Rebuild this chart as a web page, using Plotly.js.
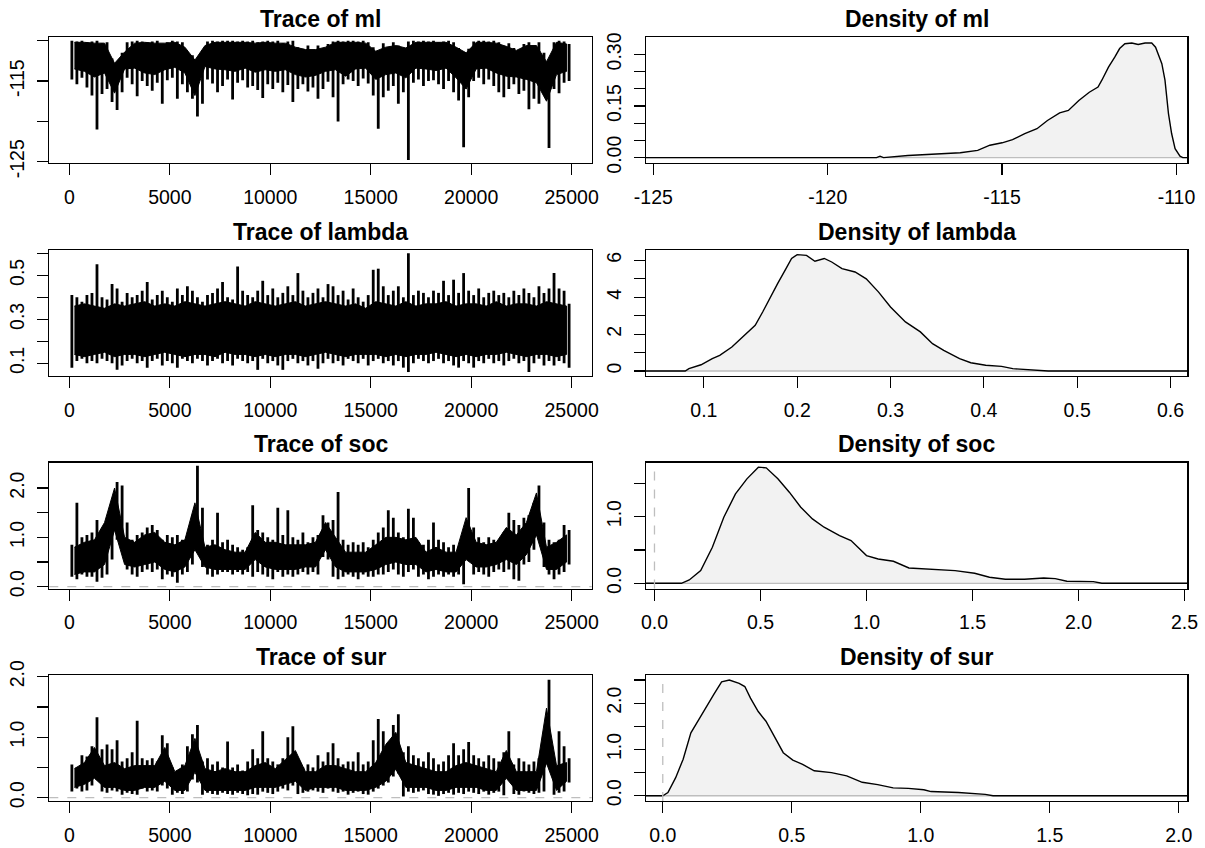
<!DOCTYPE html>
<html>
<head>
<meta charset="utf-8">
<script src="https://cdn.plot.ly/plotly-3.0.1.min.js"></script>
<style>html,body{margin:0;padding:0;background:#fff;}#plot{width:1205px;height:848px;}</style>
</head>
<body>
<div id="plot"></div>
<script>
// ---------- DATA ----------
// Trace plots: extreme high / low of the chain in each block of 250 iterations
const binSize = 250;
const mlHigh = [-110.0,-110.1,-110.0,-110.2, -110.1,-110.0,-110.3,-110.2, -112.2,-112.8,-111.5,-110.2, -110.1,-110.0,-110.1,-110.2, -110.1,-110.0,-110.4,-110.2,
  -110.0,-110.1,-110.2,-111.4, -111.8,-112.6,-111.2,-110.1, -110.0,-110.1,-110.0,-110.0, -110.0,-110.1,-110.0,-110.1, -110.0,-110.2,-110.1,-110.0,
  -110.1,-110.0,-110.3,-110.1, -110.0,-110.8,-111.0,-110.6, -111.2,-110.6,-111.0,-110.4, -110.1,-110.0,-110.1,-110.0, -110.0,-110.1,-110.0,-110.2,
  -110.8,-111.5,-110.3,-110.9, -110.2,-110.6,-111.2,-110.1, -110.0,-110.1,-110.0,-110.1, -110.0,-110.2,-110.1,-110.0, -110.2,-110.9,-111.6,-111.0,
  -110.1,-110.0,-110.0,-110.1, -110.0,-110.2,-110.8,-110.3, -110.9,-111.3,-110.4,-110.2, -110.6,-110.2,-111.5,-112.5, -110.2,-110.0,-110.1,-110.4];
const mlLow = [-114.8,-115.4,-114.6,-115.8, -116.8,-121.0,-116.6,-116.0, -117.6,-118.6,-116.4,-114.6, -115.4,-116.9,-115.0,-115.6, -116.2,-115.2,-117.8,-114.9,
  -114.6,-117.2,-115.4,-116.4, -117.2,-119.4,-117.8,-114.8, -115.3,-116.4,-115.6,-114.8, -117.3,-115.2,-114.9,-115.8, -115.6,-116.1,-117.1,-115.4,
  -116.0,-115.2,-116.4,-115.5, -117.6,-116.0,-115.4,-116.3, -115.8,-117.2,-116.0,-115.1, -117.0,-120.0,-115.4,-114.8, -115.0,-115.6,-114.7,-115.3,
  -116.8,-120.9,-117.0,-116.2, -115.6,-117.8,-116.4,-124.8, -115.2,-114.8,-115.6,-115.0, -114.9,-115.4,-116.0,-115.0, -116.4,-117.4,-123.2,-117.0,
  -115.0,-114.6,-115.4,-114.8, -115.6,-116.4,-117.0,-116.0, -115.4,-116.6,-116.2,-118.5, -117.2,-117.8,-116.0,-123.3, -116.0,-116.5,-115.2,-115.0];

const lambdaHigh = [0.41,0.40,0.38,0.41, 0.42,0.55,0.40,0.39, 0.46,0.44,0.38,0.42, 0.40,0.41,0.43,0.47, 0.39,0.41,0.43,0.40,
  0.38,0.44,0.41,0.45, 0.43,0.40,0.38,0.41, 0.42,0.44,0.47,0.40, 0.39,0.54,0.43,0.41, 0.40,0.43,0.475,0.41,
  0.44,0.40,0.42,0.45, 0.41,0.51,0.43,0.40, 0.42,0.44,0.40,0.46, 0.45,0.41,0.43,0.39, 0.44,0.40,0.38,0.41,
  0.525,0.53,0.45,0.41, 0.43,0.45,0.40,0.60, 0.41,0.43,0.42,0.40, 0.43,0.42,0.475,0.41, 0.48,0.42,0.51,0.43,
  0.41,0.44,0.40,0.42, 0.43,0.41,0.42,0.40, 0.43,0.41,0.44,0.42, 0.40,0.45,0.42,0.44, 0.51,0.44,0.43,0.37];
const lambdaLow = [0.08,0.11,0.12,0.10, 0.11,0.10,0.12,0.11, 0.10,0.07,0.09,0.11, 0.12,0.10,0.11,0.08, 0.11,0.12,0.09,0.11,
  0.10,0.08,0.12,0.11, 0.10,0.12,0.11,0.09, 0.11,0.12,0.10,0.11, 0.09,0.12,0.11,0.10, 0.11,0.07,0.12,0.10,
  0.11,0.09,0.07,0.11, 0.12,0.10,0.11,0.09, 0.11,0.075,0.10,0.12, 0.10,0.11,0.09,0.12, 0.11,0.10,0.12,0.09,
  0.11,0.12,0.10,0.11, 0.09,0.11,0.08,0.06, 0.10,0.12,0.11,0.10, 0.11,0.12,0.10,0.11, 0.09,0.08,0.11,0.10,
  0.08,0.11,0.10,0.12, 0.10,0.11,0.09,0.11, 0.12,0.10,0.11,0.06, 0.10,0.12,0.09,0.11, 0.09,0.11,0.10,0.08];

const socHigh = [0.85,1.70,1.00,1.05, 1.10,1.35,0.90,1.00, 1.70,2.12,2.05,1.30, 0.95,1.05,1.10,1.20, 1.25,1.15,0.95,1.05,
  1.00,1.05,0.95,1.05, 1.45,2.45,1.60,0.85, 0.95,1.50,0.90,0.95, 0.85,0.80,0.75,0.80, 1.65,1.15,1.10,1.00,
  0.95,1.60,1.05,1.55, 1.00,0.95,1.10,0.90, 1.00,1.05,1.45,1.30, 1.35,1.92,0.95,0.85, 0.90,0.85,0.90,0.80,
  0.95,1.10,1.20,1.55, 1.40,1.10,1.00,1.58, 1.40,0.90,0.85,0.95, 1.30,0.95,0.90,0.80, 0.85,0.80,0.80,2.00,
  1.20,1.00,0.90,1.00, 0.95,0.90,1.10,1.50, 1.35,1.25,1.40,1.45, 1.70,2.05,1.30,0.95, 0.90,0.95,1.25,1.15];
const socLow = [0.20,0.15,0.25,0.20, 0.20,0.10,0.18,0.25, 0.55,0.95,0.85,0.35, 0.25,0.20,0.30,0.35, 0.30,0.35,0.15,0.25,
  0.20,0.08,0.25,0.30, 0.45,1.05,0.40,0.25, 0.20,0.25,0.30,0.30, 0.25,0.30,0.25,0.30, 0.20,0.30,0.25,0.20,
  0.15,0.30,0.20,0.25, 0.20,0.25,0.30,0.25, 0.30,0.25,0.60,0.55, 0.20,0.15,0.20,0.25, 0.20,0.15,0.25,0.20,
  0.20,0.25,0.25,0.30, 0.35,0.25,0.20,0.30, 0.35,0.20,0.25,0.15, 0.20,0.25,0.20,0.25, 0.20,0.25,0.05,0.95,
  0.25,0.30,0.25,0.20, 0.30,0.35,0.30,0.35, 0.15,0.12,0.45,0.50, 0.75,1.00,0.40,0.25, 0.15,0.25,0.30,0.45];

const surHigh = [0.55,0.50,0.70,0.68, 0.85,1.33,0.80,0.88, 0.80,0.95,0.60,0.65, 0.75,1.27,0.65,0.62, 0.65,0.60,1.03,0.90,
  0.50,0.45,0.55,0.85, 1.05,1.20,0.60,0.65, 0.55,0.60,0.50,0.93, 0.50,0.55,0.45,0.60, 0.80,0.65,1.10,0.65,
  0.60,0.55,0.65,1.00, 1.18,0.55,0.50,0.55, 0.50,0.70,0.60,0.75, 0.90,0.65,0.55,0.60, 0.60,0.75,0.55,0.60,
  0.95,1.30,1.10,0.85, 1.20,1.38,0.75,0.85, 0.70,0.65,0.60,0.75, 0.65,0.55,0.60,0.70, 0.90,0.70,0.80,0.92,
  0.70,0.65,0.60,0.70, 0.65,0.60,0.75,1.10, 0.55,0.65,0.60,0.55, 0.60,0.65,1.05,1.95, 0.60,1.10,0.85,0.65];
const surLow = [0.10,0.15,0.10,0.12, 0.20,0.30,0.10,0.08, 0.12,0.10,0.05,0.08, 0.06,0.05,0.15,0.10, 0.12,0.10,0.20,0.15,
  0.05,0.08,0.06,0.10, 0.30,0.25,0.05,0.08, 0.06,0.05,0.08,0.06, 0.05,0.08,0.06,0.04, 0.06,0.05,0.10,0.08,
  0.06,0.10,0.15,0.12, 0.20,0.06,0.08,0.10, 0.12,0.10,0.08,0.15, 0.10,0.08,0.10,0.05, 0.08,0.10,0.06,0.05,
  0.10,0.15,0.20,0.25, 0.35,0.40,0.02,0.10, 0.08,0.10,0.12,0.06, 0.05,0.03,0.06,0.08, 0.05,0.08,0.06,0.10,
  0.08,0.06,0.10,0.05, 0.08,0.10,0.04,0.40, 0.06,0.05,0.10,0.08, 0.06,0.08,0.10,1.05, 0.05,0.08,0.10,0.25];

// Trace plots: edges of the solid (densely overplotted) core of the band, per block of 500 iterations
const coreSize = 500;
const mlCoreHigh = [-110.2,-110.2,-110.3,-110.3,-112.8,-111.4,-110.3,-110.2,-110.3,-110.3,
  -110.2,-110.8,-112.4,-110.6,-110.2,-110.2,-110.2,-110.2,-110.3,-110.2,
  -110.3,-110.3,-110.8,-111.1,-111.1,-110.8,-110.2,-110.2,-110.2,-110.3,
  -111.3,-110.8,-110.6,-110.9,-110.2,-110.2,-110.2,-110.2,-110.8,-111.5,
  -110.2,-110.2,-110.3,-110.7,-111.2,-110.6,-110.6,-112.6,-110.2,-110.4];
const mlCoreLow = [-113.5,-113.8,-114.5,-114.0,-116.5,-113.5,-113.4,-114.0,-114.2,-113.6,
  -113.3,-114.0,-116.8,-113.2,-113.5,-113.6,-113.8,-113.4,-113.9,-113.6,
  -113.8,-113.6,-114.2,-114.5,-114.3,-113.8,-113.6,-114.4,-113.5,-113.4,
  -114.8,-114.2,-114.0,-114.6,-113.4,-113.5,-113.7,-113.4,-114.6,-116.0,
  -113.5,-113.4,-114.0,-114.4,-114.5,-114.8,-115.2,-117.5,-114.2,-113.8];
const lambdaCoreHigh = [0.36,0.37,0.36,0.35,0.37,0.36,0.37,0.38,0.36,0.37,
  0.36,0.38,0.37,0.36,0.37,0.38,0.37,0.36,0.38,0.37,
  0.36,0.37,0.38,0.36,0.37,0.38,0.37,0.36,0.37,0.35,
  0.38,0.37,0.36,0.38,0.36,0.37,0.37,0.38,0.36,0.37,
  0.37,0.36,0.38,0.36,0.37,0.37,0.36,0.38,0.37,0.36];
const lambdaCoreLow = [0.14,0.13,0.14,0.15,0.13,0.14,0.14,0.13,0.14,0.15,
  0.14,0.13,0.14,0.14,0.13,0.15,0.14,0.14,0.13,0.14,
  0.13,0.14,0.14,0.13,0.14,0.15,0.14,0.13,0.14,0.14,
  0.14,0.13,0.14,0.13,0.14,0.14,0.15,0.14,0.13,0.14,
  0.13,0.14,0.14,0.15,0.14,0.13,0.14,0.14,0.13,0.14];
const socCoreHigh = [0.80,0.90,0.95,1.30,2.00,1.00,0.90,1.05,1.10,0.90,
  0.85,0.95,1.70,0.80,0.85,0.75,0.70,0.70,1.10,0.90,
  0.90,0.85,0.85,0.85,0.90,1.30,1.00,0.70,0.70,0.70,
  0.85,1.00,1.00,0.95,1.00,0.70,0.80,0.70,0.70,1.40,
  0.90,0.85,0.90,1.20,1.05,1.30,1.90,0.80,0.90,1.05];
const socCoreLow = [0.25,0.30,0.30,0.45,1.15,0.45,0.40,0.45,0.50,0.35,
  0.30,0.40,0.75,0.40,0.35,0.35,0.35,0.35,0.55,0.40,
  0.35,0.35,0.35,0.40,0.40,0.75,0.40,0.30,0.30,0.30,
  0.35,0.45,0.50,0.45,0.45,0.30,0.35,0.30,0.30,0.55,
  0.40,0.40,0.45,0.55,0.45,0.65,1.05,0.35,0.35,0.50];
const surCoreHigh = [0.48,0.58,0.83,0.53,0.58,0.48,0.53,0.53,0.53,0.83,
  0.43,0.53,0.98,0.48,0.43,0.48,0.43,0.43,0.53,0.58,
  0.48,0.63,0.78,0.43,0.43,0.53,0.53,0.48,0.43,0.43,
  0.58,0.88,1.08,0.58,0.53,0.48,0.43,0.43,0.53,0.58,
  0.53,0.48,0.43,0.78,0.43,0.43,0.43,1.48,0.53,0.58];
const surCoreLow = [0.17,0.22,0.32,0.17,0.17,0.12,0.12,0.17,0.17,0.27,
  0.12,0.12,0.42,0.12,0.12,0.12,0.12,0.12,0.17,0.17,
  0.17,0.22,0.27,0.12,0.17,0.17,0.17,0.12,0.12,0.12,
  0.17,0.27,0.47,0.17,0.17,0.17,0.12,0.12,0.17,0.17,
  0.17,0.12,0.12,0.32,0.12,0.12,0.12,0.57,0.12,0.27];

// Density curves
const mlDensX = [-125.21,-118.6,-118.5,-118.4,-117.7,-116.85,-116.2,-115.7,-115.35,-115.0,-114.7,-114.35,-114.0,-113.7,-113.35,-113.1,-112.8,-112.5,-112.25,-112.14,-111.95,-111.77,-111.63,-111.48,-111.28,-111.1,-110.9,-110.71,-110.6,-110.42,-110.33,-110.23,-110.14,-110.04,-109.9,-109.82,-109.69];
const mlDensY = [0,0,0.004,0,0.006,0.01,0.014,0.021,0.036,0.043,0.052,0.07,0.084,0.108,0.13,0.137,0.166,0.19,0.205,0.225,0.263,0.292,0.317,0.331,0.333,0.329,0.333,0.333,0.321,0.273,0.225,0.128,0.07,0.026,0.004,0,0];

const lambdaDensX = [0.038,0.08,0.084,0.097,0.109,0.117,0.13,0.142,0.155,0.163,0.171,0.179,0.188,0.194,0.2,0.21,0.219,0.229,0.237,0.248,0.262,0.274,0.287,0.3,0.316,0.332,0.345,0.357,0.374,0.386,0.402,0.419,0.431,0.456,0.469,0.618];
const lambdaDensY = [0,0,0.13,0.34,0.67,0.85,1.3,1.84,2.48,3.2,4.0,4.74,5.55,6.1,6.31,6.27,5.95,6.1,5.91,5.55,5.37,5.0,4.29,3.47,2.66,2.12,1.48,1.12,0.67,0.45,0.31,0.25,0.13,0.05,0,0];

const socDensX = [-0.04,0.127,0.164,0.218,0.273,0.327,0.382,0.436,0.49,0.527,0.582,0.636,0.69,0.745,0.8,0.873,0.927,1.0,1.055,1.127,1.2,1.31,1.418,1.51,1.58,1.655,1.745,1.836,1.89,1.945,2.07,2.11,2.513];
const socDensY = [0,0,0.05,0.19,0.54,0.99,1.34,1.565,1.74,1.73,1.565,1.365,1.14,0.965,0.84,0.715,0.64,0.415,0.365,0.33,0.23,0.205,0.19,0.15,0.09,0.06,0.06,0.08,0.07,0.03,0.025,0,0];

const surDensX = [-0.065,0,0.02,0.05,0.079,0.109,0.139,0.169,0.199,0.228,0.258,0.296,0.318,0.34,0.37,0.4,0.43,0.467,0.504,0.542,0.587,0.654,0.713,0.773,0.833,0.893,0.952,1.012,1.04,1.146,1.25,1.28,2.033];
const surDensY = [0,0,0.07,0.39,0.79,1.36,1.64,1.93,2.2,2.46,2.5,2.43,2.36,2.11,1.82,1.61,1.29,0.93,0.77,0.68,0.54,0.5,0.43,0.29,0.24,0.17,0.16,0.13,0.09,0.07,0.03,0,0];

// Titles and tick labels
const titles = ["Trace of ml","Density of ml","Trace of lambda","Density of lambda","Trace of soc","Density of soc","Trace of sur","Density of sur"];
const traceXTicks = [0,5000,10000,15000,20000,25000];
const traceXLabels = ["0","5000","10000","15000","20000","25000"];
const mlTraceYTicks = [-125,-120,-115,-110];            const mlTraceYLabels = ["-125","","-115",""];
const lambdaTraceYTicks = [0.1,0.2,0.3,0.4,0.5,0.6];    const lambdaTraceYLabels = ["0.1","","0.3","","0.5",""];
const socTraceYTicks = [0,0.5,1,1.5,2];                 const socTraceYLabels = ["0.0","","1.0","","2.0"];
const surTraceYTicks = [0,0.5,1,1.5,2];                 const surTraceYLabels = ["0.0","","1.0","","2.0"];
const mlDensXTicks = [-125,-120,-115,-110];             const mlDensXLabels = ["-125","-120","-115","-110"];
const mlDensYTicks = [0,0.05,0.10,0.15,0.20,0.25,0.30]; const mlDensYLabels = ["0.00","","","0.15","","","0.30"];
const lambdaDensXTicks = [0.1,0.2,0.3,0.4,0.5,0.6];     const lambdaDensXLabels = ["0.1","0.2","0.3","0.4","0.5","0.6"];
const lambdaDensYTicks = [0,1,2,3,4,5,6];               const lambdaDensYLabels = ["0","","2","","4","","6"];
const socDensXTicks = [0,0.5,1,1.5,2,2.5];              const socDensXLabels = ["0.0","0.5","1.0","1.5","2.0","2.5"];
const socDensYTicks = [0,0.5,1,1.5];                    const socDensYLabels = ["0.0","","1.0",""];
const surDensXTicks = [0,0.5,1,1.5,2];                  const surDensXLabels = ["0.0","0.5","1.0","1.5","2.0"];
const surDensYTicks = [0,0.5,1,1.5,2,2.5];              const surDensYLabels = ["0.0","","1.0","","2.0",""];

// ---------- LAYOUT GEOMETRY (pixels) ----------
const W = 1205, H = 848;
const colBox = [[49.3,591.7],[646,1187.3]];
const rowBox = [[37,163],[250,376],[462.5,588.5],[675,801]];

// vertical segments from low to high of each block
function spikes(high, low){
  const x=[], y=[];
  for(let i=0;i<high.length;i++){
    const c = i*binSize + binSize/2;
    x.push(c, c, null); y.push(low[i], high[i], null);
  }
  return {x,y};
}
// closed polygon of the solid core
function core(high, low){
  const x=[], y=[];
  for(let j=0;j<high.length;j++){ x.push(j*coreSize + coreSize/2); y.push(high[j]); }
  for(let j=low.length-1;j>=0;j--){ x.push(j*coreSize + coreSize/2); y.push(low[j]); }
  return {x,y};
}

const FONT = "Liberation Sans, Arial, sans-serif";
const data = [];
const layout = {
  width: W, height: H, margin:{l:0,r:0,t:0,b:0},
  paper_bgcolor:"#ffffff", plot_bgcolor:"#ffffff",
  showlegend:false, font:{family:FONT, color:"#000"},
  annotations:[], shapes:[]
};

function axisBase(){
  return {showline:true, mirror:true, linecolor:"#000", linewidth:1.2,
    ticks:"outside", ticklen:11, tickwidth:1.2, tickcolor:"#000",
    showgrid:false, zeroline:false, fixedrange:true,
    tickfont:{family:FONT, size:19.5, color:"#000"}};
}

const panels = [
  {kind:"trace", hi:mlHigh, lo:mlLow, ch:mlCoreHigh, cl:mlCoreLow, xr:[-999,26000], yr:[-125.16,-109.54], xt:traceXTicks, xl:traceXLabels, yt:mlTraceYTicks, yl:mlTraceYLabels, zero:false},
  {kind:"dens", x:mlDensX, y:mlDensY, xr:[-125.21,-109.69], yr:[-0.0157,0.3506], xt:mlDensXTicks, xl:mlDensXLabels, yt:mlDensYTicks, yl:mlDensYLabels, zero:false},
  {kind:"trace", hi:lambdaHigh, lo:lambdaLow, ch:lambdaCoreHigh, cl:lambdaCoreLow, xr:[-999,26000], yr:[0.042,0.615], xt:traceXTicks, xl:traceXLabels, yt:lambdaTraceYTicks, yl:lambdaTraceYLabels, zero:false},
  {kind:"dens", x:lambdaDensX, y:lambdaDensY, xr:[0.038,0.618], yr:[-0.27,6.56], xt:lambdaDensXTicks, xl:lambdaDensXLabels, yt:lambdaDensYTicks, yl:lambdaDensYLabels, zero:false},
  {kind:"trace", hi:socHigh, lo:socLow, ch:socCoreHigh, cl:socCoreLow, xr:[-999,26000], yr:[-0.036,2.517], xt:traceXTicks, xl:traceXLabels, yt:socTraceYTicks, yl:socTraceYLabels, zero:true},
  {kind:"dens", x:socDensX, y:socDensY, xr:[-0.04,2.513], yr:[-0.078,1.81], xt:socDensXTicks, xl:socDensXLabels, yt:socDensYTicks, yl:socDensYLabels, zero:true},
  {kind:"trace", hi:surHigh, lo:surLow, ch:surCoreHigh, cl:surCoreLow, xr:[-999,26000], yr:[-0.055,2.028], xt:traceXTicks, xl:traceXLabels, yt:surTraceYTicks, yl:surTraceYLabels, zero:true},
  {kind:"dens", x:surDensX, y:surDensY, xr:[-0.065,2.033], yr:[-0.114,2.61], xt:surDensXTicks, xl:surDensXLabels, yt:surDensYTicks, yl:surDensYLabels, zero:true}
];

panels.forEach((p, i) => {
  const n = i+1;
  const col = i % 2, row = Math.floor(i/2);
  const xa = "x"+(n===1?"":n), ya = "y"+(n===1?"":n);
  const xKey = "xaxis"+(n===1?"":n), yKey = "yaxis"+(n===1?"":n);
  const cb = colBox[col], rb = rowBox[row];
  const X = axisBase(), Y = axisBase();
  X.domain = [cb[0]/W, cb[1]/W]; X.range = p.xr; X.anchor = ya;
  X.tickmode = "array"; X.tickvals = p.xt; X.ticktext = p.xl; X.ticklabelstandoff = 5;
  Y.domain = [1-rb[1]/H, 1-rb[0]/H]; Y.range = p.yr; Y.anchor = xa;
  Y.tickmode = "array"; Y.tickvals = p.yt; Y.ticktext = p.yl; Y.tickangle = -90; Y.ticklabelstandoff = 5;
  layout[xKey] = X; layout[yKey] = Y;

  if(p.kind === "trace"){
    const c = core(p.ch, p.cl);
    data.push({type:"scatter", mode:"lines", x:c.x, y:c.y, xaxis:xa, yaxis:ya,
      fill:"toself", fillcolor:"#000", line:{color:"#000", width:1}, hoverinfo:"skip"});
    const s = spikes(p.hi, p.lo);
    data.push({type:"scatter", mode:"lines", x:s.x, y:s.y, xaxis:xa, yaxis:ya, connectgaps:false,
      line:{color:"#000", width:2.8}, hoverinfo:"skip"});
    if(p.zero){
      layout.shapes.push({type:"line", xref:xa+" domain", x0:0, x1:1, yref:ya, y0:0, y1:0,
        line:{color:"#BEBEBE", width:1.3, dash:"dash"}, layer:"above"});
    }
  } else {
    data.push({type:"scatter", mode:"none", x:p.x, y:p.y, xaxis:xa, yaxis:ya,
      fill:"tozeroy", fillcolor:"#F2F2F2", hoverinfo:"skip"});
    data.push({type:"scatter", mode:"lines", x:[p.xr[0], p.xr[1]], y:[0,0], xaxis:xa, yaxis:ya,
      line:{color:"#BEBEBE", width:1.3}, hoverinfo:"skip"});
    data.push({type:"scatter", mode:"lines", x:p.x, y:p.y, xaxis:xa, yaxis:ya,
      line:{color:"#000", width:1.4}, hoverinfo:"skip"});
    if(p.zero){
      layout.shapes.push({type:"line", yref:ya+" domain", y0:0, y1:1, xref:xa, x0:0, x1:0,
        line:{color:"#BEBEBE", width:1.3, dash:"dash"}, layer:"above"});
    }
  }
  layout.annotations.push({text:"<b>"+titles[i]+"</b>", xref:"paper", yref:"paper",
    x:(cb[0]+cb[1])/2/W, y:1-(rb[0]-18.5)/H, xanchor:"center", yanchor:"middle",
    showarrow:false, font:{family:FONT, size:23, color:"#000"}});
});

Plotly.newPlot("plot", data, layout, {displayModeBar:false, staticPlot:true});
</script>
</body>
</html>
